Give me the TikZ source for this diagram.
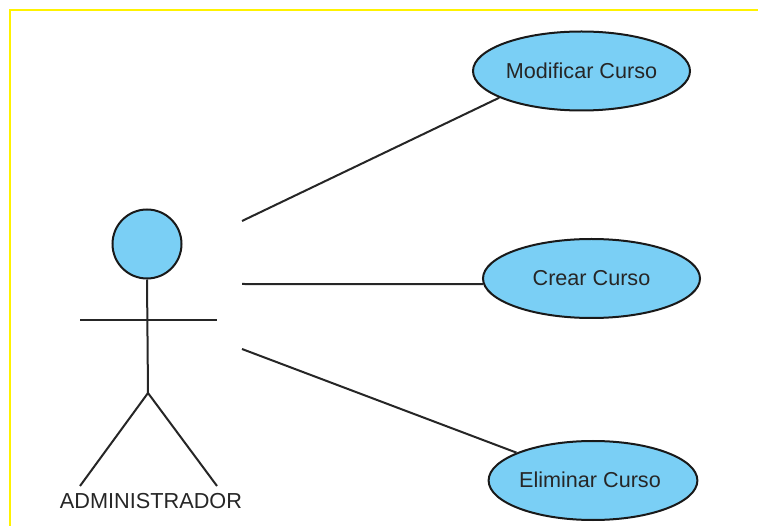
\documentclass[tikz,border=0pt]{standalone}
\usepackage{fontspec}
\setmainfont{Liberation Sans}
\usetikzlibrary{shapes.geometric}
\definecolor{usecasefill}{HTML}{7ACFF5}
\tikzset{
  usecase/.style={draw=black!90,line width=2pt,fill=usecasefill,ellipse,inner sep=0pt,
    minimum width=217pt,minimum height=79pt,font=\fontsize{21.6}{25}\selectfont,text=black!85},
  actorhead/.style={draw=black!90,line width=2pt,fill=usecasefill,circle,inner sep=0pt,minimum size=69pt},
  actorline/.style={draw=black!85,line width=2pt},
  link/.style={draw=black!85,line width=2pt}
}
\begin{document}
\begin{tikzpicture}[x=1pt,y=-1pt]
      \useasboundingbox (0,0) rectangle (758,526);
      \coordinate (frametl) at (10,10);
      \coordinate (frametr) at (758,10);
      \coordinate (framebl) at (10,526);
      \draw[yellow,line width=2pt] (framebl) -- (frametl) -- (frametr);
      \draw
        (581.5,71) node[usecase] (modificar){\raisebox{1pt}{Modificar Curso}}
        (591.5,278.5) node[usecase] (crear){\raisebox{1pt}{Crear Curso}}
        (593,480.5) node[usecase,minimum width=208pt] (eliminar){\raisebox{1pt}{Eliminar Curso}\hspace{6pt}\mbox{}}
        (147,244) node[actorhead] (head){}
        (151,501) node[font=\fontsize{21.7}{26}\selectfont,text=black!85,inner sep=0pt] (administrador){ADMINISTRADOR};
      \coordinate (armleft) at (80,320);
      \coordinate (armright) at (217,320);
      \coordinate (hip) at (148,393);
      \coordinate (footleft) at (80,486);
      \coordinate (footright) at (217,486);
      \coordinate (linka) at (242,221);
      \coordinate (linkb) at (242,284);
      \coordinate (linkc) at (242,349);
      \begin{scope}[actorline]
        \draw (head.south) -- (hip);
        \draw (armleft) -- (armright);
        \draw (hip) -- (footleft);
        \draw (hip) -- (footright);
      \end{scope}
      \begin{scope}[link]
        \draw (linka) to (modificar.198);
        \draw (linkb) to (crear.183);
        \draw (linkc) to (eliminar.160);
      \end{scope}
    \end{tikzpicture}
\end{document}
